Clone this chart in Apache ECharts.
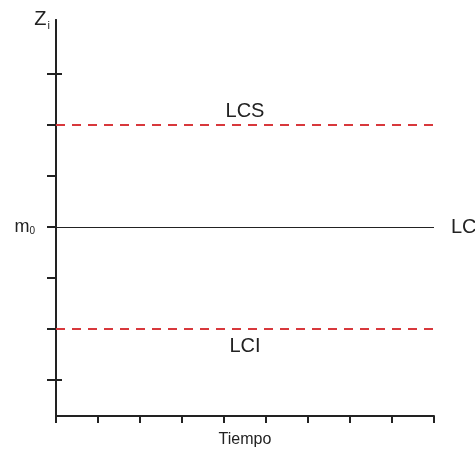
<!DOCTYPE html>
<html>
<head>
<meta charset="utf-8">
<script src="https://cdn.jsdelivr.net/npm/echarts@6/dist/echarts.min.js"></script>
<style>html,body{margin:0;padding:0;background:#fff;}#c{width:475px;height:451px;}</style>
</head>
<body>
<div id="c"></div>
<script>
const timeTicks = [0,1,2,3,4,5,6,7,8,9];
const zTicks = [-3,-2,-1,0,1,2,3];
const crossTicks = [-3,3];
const limitNames = ['LCS','LC','LCI'];
const limitValues = [2,0,-2];
const yMin = -3.706, yMax = 4.06;

const font = 'Liberation Sans, Arial, sans-serif';
const chart = echarts.init(document.getElementById('c'));
const dashed = {type:[9,7], color:'#d8383c', width:2};
chart.setOption({
  animation:false,
  grid:{left:56, right:41, top:20, bottom:35, outerBoundsMode:'none', containLabel:false},
  xAxis:{
    type:'value', min:timeTicks[0], max:timeTicks[timeTicks.length-1], interval:1,
    name:'Tiempo', nameLocation:'middle', nameGap:16,
    nameTextStyle:{fontFamily:font, fontSize:16, color:'#222', verticalAlign:'top'},
    axisLine:{show:true, onZero:false, lineStyle:{color:'#222', width:2}},
    axisTick:{show:true, length:7, inside:false, lineStyle:{color:'#222', width:2}},
    axisLabel:{show:false}, splitLine:{show:false}
  },
  yAxis:[{
    type:'value', min:yMin, max:yMax,
    name:'{z|Z}{s|i}', nameLocation:'end', nameGap:-11,
    nameTextStyle:{align:'right', padding:[0,6,0,0], rich:{
      z:{fontFamily:font, fontSize:20, color:'#222'},
      s:{fontFamily:font, fontSize:11, color:'#222', padding:[12,0,0,1]}
    }},
    axisLine:{show:true, onZero:false, lineStyle:{color:'#222', width:2}},
    axisTick:{show:true, length:9, customValues:zTicks, lineStyle:{color:'#222', width:2}},
    axisLabel:{show:true, customValues:[0], margin:21,
      formatter:()=>'{m|m}{s|0}',
      rich:{m:{fontFamily:font, fontSize:18, color:'#222'}, s:{fontFamily:font, fontSize:10, color:'#222', padding:[8,0,0,0]}}},
    splitLine:{show:false}
  },{
    type:'value', min:yMin, max:yMax, position:'left', offset:0,
    axisLine:{show:true, onZero:false, lineStyle:{color:'#222', width:2}},
    axisTick:{show:true, inside:true, length:6, customValues:crossTicks, lineStyle:{color:'#222', width:2}},
    axisLabel:{show:false, customValues:crossTicks}, splitLine:{show:false}
  }],
  series:[{
    type:'line', data:[], silent:true,
    markLine:{
      symbol:'none', silent:true,
      data:[
        {yAxis:limitValues[0], lineStyle:dashed,
          label:{show:true, formatter:limitNames[0], position:'insideMiddleTop', distance:4, fontFamily:font, fontSize:20, color:'#222'}},
        {yAxis:limitValues[1], lineStyle:{type:'solid', color:'#222', width:1.2},
          label:{show:true, formatter:limitNames[1], position:'end', distance:17, fontFamily:font, fontSize:20, color:'#222'}},
        {yAxis:limitValues[2], lineStyle:dashed,
          label:{show:true, formatter:limitNames[2], position:'insideMiddleBottom', distance:7, fontFamily:font, fontSize:20, color:'#222'}}
      ]
    }
  }]
});
</script>
</body>
</html>
